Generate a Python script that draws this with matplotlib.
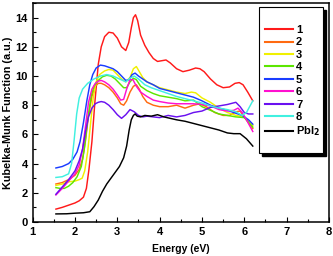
import matplotlib
matplotlib.use("Agg")
import matplotlib.pyplot as plt
from matplotlib.patches import Rectangle
from matplotlib.ticker import MultipleLocator

plt.rcParams['font.family'] = ['Liberation Sans', 'DejaVu Sans']
plt.rcParams['font.weight'] = 'bold'

labels = ['1', '2', '3', '4', '5', '6', '7', '8', 'PbI$_\\mathbf{2}$']
colors = ['#ff1a1a', '#ff6a10', '#f0f000', '#5ce600', '#1a3cff', '#ff10d0', '#6a10f0', '#40f0e0', '#000000']

e1 = [1.55,1.7,1.85,2.0,2.1,2.2,2.27,2.33,2.4,2.47,2.55,2.62,2.7,2.8,2.9,3.0,3.1,3.2,3.27,3.33,3.38,3.43,3.48,3.55,3.65,3.75,3.85,3.95,4.05,4.15,4.25,4.4,4.55,4.7,4.85,4.95,5.05,5.2,5.35,5.5,5.65,5.78,5.88,5.97,6.08,6.2]
k1 = [0.88,1.0,1.15,1.3,1.45,1.7,2.3,3.6,5.5,8.2,10.8,12.0,12.7,13.0,12.95,12.6,12.0,11.75,12.3,13.3,14.0,14.2,13.8,12.8,12.1,11.6,11.2,11.0,11.05,11.1,10.9,10.5,10.3,10.4,10.55,10.5,10.3,9.8,9.4,9.2,9.25,9.5,9.55,9.4,8.9,8.3]

e2 = [1.55,1.7,1.85,2.0,2.1,2.18,2.25,2.32,2.4,2.48,2.55,2.62,2.7,2.8,2.9,3.0,3.08,3.15,3.22,3.3,3.38,3.45,3.52,3.6,3.7,3.85,4.0,4.2,4.4,4.6,4.8,4.95,5.1,5.3,5.5,5.65,5.8,5.9,6.0,6.1,6.2]
k2 = [2.6,2.7,2.9,3.2,3.6,4.3,5.6,7.3,8.6,9.3,9.5,9.5,9.4,9.2,8.9,8.5,8.1,8.0,8.3,8.9,9.3,9.4,9.1,8.6,8.2,8.0,7.9,7.9,8.0,7.8,8.0,8.1,7.9,7.5,7.3,7.3,7.55,7.6,7.2,6.8,6.4]

e3 = [1.55,1.7,1.85,2.0,2.1,2.17,2.23,2.3,2.37,2.43,2.5,2.58,2.7,2.8,2.9,3.0,3.1,3.2,3.3,3.38,3.45,3.52,3.6,3.7,3.85,4.0,4.2,4.4,4.6,4.75,4.85,5.0,5.2,5.4,5.6,5.8,6.0,6.1,6.2]
k3 = [2.5,2.6,2.75,2.8,2.9,3.0,3.5,4.8,6.8,8.5,9.6,10.1,10.35,10.45,10.4,10.1,9.8,9.6,9.9,10.5,10.65,10.3,9.9,9.6,9.4,9.2,9.05,8.9,8.8,8.9,8.85,8.5,8.2,7.8,7.5,7.3,7.2,6.9,6.6]

e4 = [1.55,1.65,1.75,1.85,1.95,2.05,2.15,2.22,2.3,2.38,2.45,2.55,2.65,2.75,2.85,2.95,3.05,3.15,3.22,3.3,3.38,3.45,3.55,3.7,3.85,4.0,4.2,4.4,4.6,4.8,5.0,5.2,5.4,5.6,5.8,6.0,6.2]
k4 = [2.35,2.3,2.3,2.45,2.7,3.1,3.8,5.0,7.0,8.6,9.3,9.7,9.95,10.05,10.0,9.8,9.5,9.2,9.2,9.6,9.85,9.75,9.3,9.0,8.8,8.65,8.55,8.45,8.3,8.35,7.9,7.65,7.4,7.3,7.2,7.15,6.5]

e5 = [1.55,1.7,1.85,1.95,2.05,2.12,2.2,2.28,2.35,2.42,2.5,2.6,2.7,2.8,2.9,3.0,3.1,3.2,3.28,3.35,3.42,3.5,3.6,3.7,3.85,4.0,4.2,4.4,4.6,4.8,5.0,5.2,5.4,5.6,5.8,5.95,6.1,6.2]
k5 = [3.7,3.8,4.0,4.3,4.8,5.5,6.8,8.3,9.4,10.1,10.55,10.75,10.7,10.6,10.5,10.3,10.0,9.7,9.75,10.1,10.2,10.0,9.8,9.6,9.4,9.15,9.0,8.85,8.7,8.55,8.3,8.0,7.8,7.65,7.45,7.3,7.0,6.7]

e6 = [1.55,1.7,1.85,2.0,2.1,2.18,2.25,2.32,2.4,2.48,2.55,2.62,2.7,2.8,2.9,3.0,3.08,3.15,3.22,3.3,3.37,3.45,3.55,3.7,3.85,4.0,4.2,4.4,4.6,4.8,5.0,5.2,5.4,5.6,5.75,5.85,5.95,6.05,6.2]
k6 = [1.85,2.3,2.8,3.3,3.9,5.0,6.6,8.2,9.1,9.5,9.65,9.7,9.6,9.4,9.1,8.7,8.35,8.4,9.1,9.75,9.75,9.3,8.9,8.6,8.35,8.25,8.15,8.1,8.1,8.1,8.05,7.95,7.7,7.6,7.65,7.8,7.5,7.0,6.2]

e7 = [1.55,1.7,1.85,2.0,2.1,2.18,2.25,2.32,2.4,2.48,2.55,2.62,2.7,2.8,2.9,3.0,3.1,3.2,3.3,3.4,3.5,3.6,3.7,3.85,4.0,4.2,4.4,4.6,4.8,5.0,5.2,5.4,5.6,5.8,5.9,6.0,6.1,6.2]
k7 = [1.9,2.4,2.9,3.5,4.2,5.0,6.2,7.2,7.8,8.1,8.2,8.25,8.2,8.0,7.7,7.35,7.1,7.35,7.7,7.55,7.3,7.2,7.25,7.2,7.15,7.3,7.2,7.3,7.5,7.6,7.85,7.95,8.05,8.2,7.9,7.5,7.4,7.4]

e8 = [1.55,1.7,1.85,1.92,1.98,2.04,2.1,2.18,2.3,2.45,2.6,2.75,2.9,3.05,3.2,3.3,3.4,3.5,3.65,3.8,4.0,4.2,4.4,4.6,4.8,5.0,5.2,5.4,5.6,5.8,5.95,6.05,6.2]
k8 = [3.05,3.1,3.3,4.0,5.6,7.4,8.5,9.1,9.5,9.8,10.0,10.1,10.0,9.8,9.6,9.85,10.0,9.8,9.4,9.2,9.0,8.8,8.6,8.45,8.3,8.15,7.95,7.8,7.7,7.55,7.3,7.5,8.3]

e0 = [1.55,1.8,2.0,2.2,2.35,2.45,2.55,2.65,2.75,2.85,2.95,3.05,3.15,3.22,3.28,3.33,3.38,3.42,3.47,3.55,3.65,3.8,3.95,4.1,4.25,4.4,4.6,4.8,5.0,5.2,5.4,5.6,5.75,5.9,6.05,6.2]
k0 = [0.55,0.56,0.6,0.63,0.7,1.05,1.5,2.1,2.6,3.0,3.4,3.8,4.4,5.2,6.3,7.0,7.3,7.4,7.25,7.2,7.3,7.25,7.35,7.2,7.1,7.0,6.9,6.75,6.6,6.45,6.3,6.1,6.05,6.05,5.7,5.2]

series = [(e1, k1), (e2, k2), (e3, k3), (e4, k4), (e5, k5), (e6, k6), (e7, k7), (e8, k8), (e0, k0)]

fig = plt.figure(figsize=(3.33, 2.56), dpi=100)
ax = fig.add_axes([0.098, 0.133, 0.890, 0.855])

handles = []
for (e, k), c, lab in zip(series, colors, labels):
    h, = ax.plot(e, k, color=c, lw=1.05, label=lab)
    handles.append(h)

ax.set_xlim(1, 8)
ax.set_ylim(0, 15)
ax.xaxis.set_major_locator(MultipleLocator(1))
ax.xaxis.set_minor_locator(MultipleLocator(0.5))
ax.yaxis.set_major_locator(MultipleLocator(2))
ax.yaxis.set_minor_locator(MultipleLocator(1))
ax.tick_params(which='both', direction='in', top=False, right=False, labelsize=8, width=0.8)
ax.tick_params(which='major', length=3.5)
ax.tick_params(which='minor', length=2)
for s in ax.spines.values():
    s.set_linewidth(1.1)
ax.set_xlabel('Energy (eV)', fontsize=7.5, fontweight='bold', labelpad=5)
ax.set_ylabel('Kubelka-Munk Function (a.u.)', fontsize=7.8, fontweight='bold', labelpad=2)

# legend box with shadow
x0, x1, y0, y1 = 0.764, 0.980, 0.315, 0.982
sx, sy = 3 / 296.3, 3 / 219
ax.add_patch(Rectangle((x0 + sx, y0 - sy), x1 - x0, y1 - y0, transform=ax.transAxes,
                       facecolor='black', edgecolor='black', zorder=5))
ax.add_patch(Rectangle((x0, y0), x1 - x0, y1 - y0, transform=ax.transAxes,
                       facecolor='white', edgecolor='black', lw=0.8, zorder=6))
leg = ax.legend(handles=handles, loc='upper left', bbox_to_anchor=(0.784, 0.900),
                frameon=False, fontsize=8, handlelength=2.5, handletextpad=0.3,
                labelspacing=0.22, borderpad=0, borderaxespad=0)
for ln in leg.get_lines():
    ln.set_linewidth(1.5)
leg.set_zorder(7)

fig.savefig('out.png', dpi=100)
